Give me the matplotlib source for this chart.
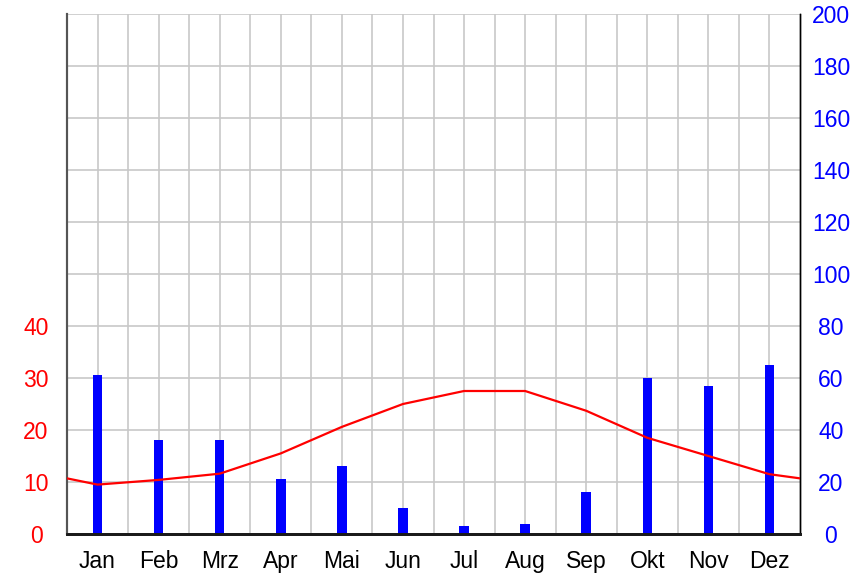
import numpy as np
import matplotlib
matplotlib.use("Agg")
import matplotlib.pyplot as plt

plt.rcParams['font.family'] = ['Liberation Sans', 'DejaVu Sans']

months = ["Jan", "Feb", "Mrz", "Apr", "Mai", "Jun",
          "Jul", "Aug", "Sep", "Okt", "Nov", "Dez"]
precip = [61, 36, 36, 21, 26, 10, 3, 4, 16, 60, 57, 65]
temp = [9.5, 10.4, 11.6, 15.5, 20.6, 25.0, 27.5, 27.5, 23.7, 18.5, 15.0, 11.5]
temp_edge = 10.7  # value where the line meets the frame on both sides

temp_ticks = [0, 10, 20, 30, 40]
precip_ticks = list(range(0, 201, 20))

fig = plt.figure(figsize=(8.67, 5.74), dpi=100)
ax = fig.add_axes([67 / 867, 40 / 574, 733 / 867, 520 / 574])

centers = np.arange(12) + 0.5

# precipitation, right axis
ax.bar(centers, precip, width=0.155, color="#0000ff", zorder=2)
ax.set_xlim(0, 12)
ax.set_ylim(0, 200)
ax.set_xticks(centers)
ax.set_xticklabels(months)
ax.set_xticks(np.arange(0.5, 12, 0.5), minor=True)
ax.tick_params(axis="x", which="both", length=0, pad=24.5, labelsize=16.5, colors="black")
for lab in ax.get_xticklabels():
    lab.set_verticalalignment("baseline")
ax.grid(True, which="both", axis="x", color="#c8c8c8", linewidth=1.2, zorder=0)
ax.set_axisbelow(True)

# temperature, left axis
ax2 = ax.twinx()
xs = np.concatenate([[0], centers, [12]])
ys = [temp_edge] + temp + [temp_edge]
ax2.plot(xs, ys, color="#ff0000", linewidth=1.6, zorder=3)
ax2.set_ylim(0, 100)
ax2.yaxis.tick_left()
ax2.set_yticks(temp_ticks)
ax2.tick_params(axis="y", length=0, pad=22.3, labelsize=16.5, labelcolor="#ff0000")
for lab in ax2.get_yticklabels():
    lab.set_horizontalalignment("center")

# twinx moves the first axis to the left, so put it back on the right
ax.yaxis.tick_right()
ax.set_yticks(precip_ticks)
ax.tick_params(axis="y", length=0, pad=22.3, labelsize=16.5, labelcolor="#0000ff")
for lab in ax.get_yticklabels():
    lab.set_horizontalalignment("center")
ax.grid(True, which="major", axis="y", color="#c8c8c8", linewidth=1.2, zorder=0)

for a in (ax, ax2):
    a.spines["top"].set_visible(False)
    a.spines["left"].set_color("#555555")
    a.spines["left"].set_linewidth(1.5)
    a.spines["bottom"].set_color("#1a1a1a")
    a.spines["bottom"].set_linewidth(2)
    a.spines["right"].set_color("black")
    a.spines["right"].set_linewidth(1)

fig.savefig("out.png", dpi=100)
